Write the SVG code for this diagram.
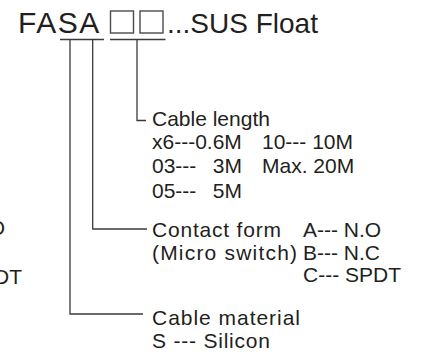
<svg xmlns="http://www.w3.org/2000/svg" width="426" height="354" viewBox="0 0 426 354">
<style>
text{font-family:"Liberation Sans",Arial,sans-serif;fill:#231f20}
.t{font-size:28px}
.s{font-size:21px}
.m{font-size:21px}
.ln{fill:none;stroke:#3a3a3a;stroke-width:1.3}
.bx{fill:none;stroke:#4a4a4a;stroke-width:1.4}
</style>
<rect width="426" height="354" fill="#fff"/>
<g id="title">
<text x="18" y="33" font-size="30" letter-spacing="1.5">FASA</text>
<rect class="bx" x="110.5" y="11" width="23" height="22"/>
<rect class="bx" x="140" y="11" width="23" height="22"/>
<text class="t" x="167" y="33">...SUS Float</text>
</g>
<g id="connectors">
<path class="ln" d="M60 39.5H104M110 39.5H165.5"/>
<path class="ln" d="M137 39.5V120.5H146"/>
<path class="ln" d="M92.7 39.5V229H147"/>
<path class="ln" d="M70 39.5V314H143"/>
</g>
<g id="cable-length">
<text class="s" x="152" y="126">Cable length</text>
<text class="s" x="152" y="149">x6---0.6M</text>
<text class="s" x="262" y="149">10--- 10M</text>
<text class="s" x="152" y="173">03---</text>
<text class="s" x="242" y="173" text-anchor="end">3M</text>
<text class="s" x="262" y="173">Max. 20M</text>
<text class="s" x="152" y="198">05---</text>
<text class="s" x="242" y="198" text-anchor="end">5M</text>
</g>
<g id="contact-form">
<text class="m" x="152" y="237" textLength="129" lengthAdjust="spacing">Contact form</text>
<text class="m" x="303" y="237" font-size="22">A--- N.O</text>
<text class="m" x="152" y="259.5" textLength="145" lengthAdjust="spacing">(Micro switch)</text>
<text class="m" x="303" y="259.5" font-size="22">B--- N.C</text>
<text class="m" x="303" y="282" font-size="22">C--- SPDT</text>
</g>
<g id="cable-material">
<text class="m" x="152" y="325" textLength="148" lengthAdjust="spacing">Cable material</text>
<text class="m" x="152" y="348" textLength="118" lengthAdjust="spacing">S --- Silicon</text>
</g>
<g id="edge-fragments">
<text class="m" x="5" y="235" text-anchor="end">N.O</text>
<text class="m" x="22" y="284" text-anchor="end">SPDT</text>
</g>
</svg>
